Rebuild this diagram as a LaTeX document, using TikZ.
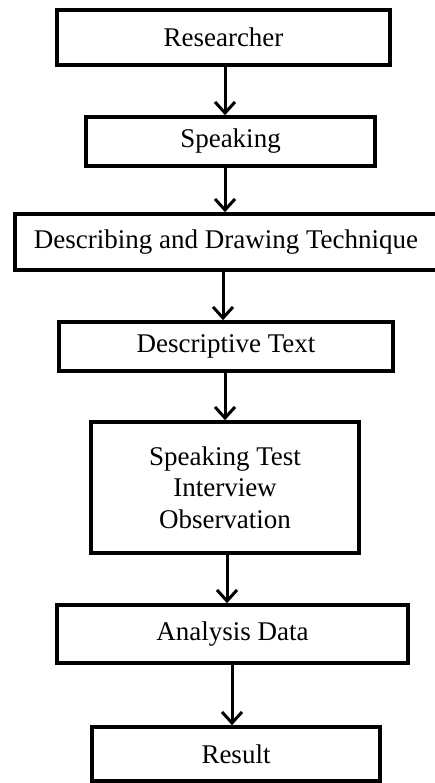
\documentclass[tikz,border=0pt]{standalone}
\usepackage{fontspec}
\setmainfont{Liberation Serif}
\usetikzlibrary{arrows.meta}
\begin{document}
\begin{tikzpicture}[x=1pt,y=-1pt,
  box/.style={draw=black, line width=3.6pt, fill=white, rectangle, inner sep=0pt,
    align=center, font=\fontsize{27}{31.5}\selectfont},
  arr/.style={line width=3pt, -{Straight Barb[length=11pt,width=20pt,line width=3pt]}}]
\clip (0,0) rectangle (435,783);
\useasboundingbox (0,0) rectangle (435,783);
\node[box, minimum width=333pt, minimum height=55pt] (r) at (223.5,37.5) {Researcher};
\node[box, minimum width=289pt, minimum height=49pt] (s) at (230.5,141.5) {Speaking};
\node[box, minimum width=422pt, minimum height=56pt] (d) at (226,242) {Describing and Drawing Technique};
\node[box, minimum width=334pt, minimum height=49pt] (t) at (226,346.5) {Descriptive Text};
\node[box, minimum width=268pt, minimum height=131pt] (m) at (225,487.5) {Speaking Test\\Interview\\Observation};
\node[box, minimum width=351pt, minimum height=58pt] (a) at (232.5,634) {Analysis Data};
\node[box, minimum width=288pt, minimum height=54pt] (res) at (236,754) {Result};
\draw[arr] (r.south -| 225,0) -- (s.north -| 225,0);
\draw[arr] (s.south -| 225,0) -- (d.north -| 225,0);
\draw[arr] (d.south -| 223,0) -- (t.north -| 223,0);
\draw[arr] (t.south -| 225,0) -- (m.north -| 225,0);
\draw[arr] (m.south -| 227,0) -- (a.north -| 227,0);
\draw[arr] (a.south -| 232,0) -- (res.north -| 232,0);
\end{tikzpicture}
\end{document}
